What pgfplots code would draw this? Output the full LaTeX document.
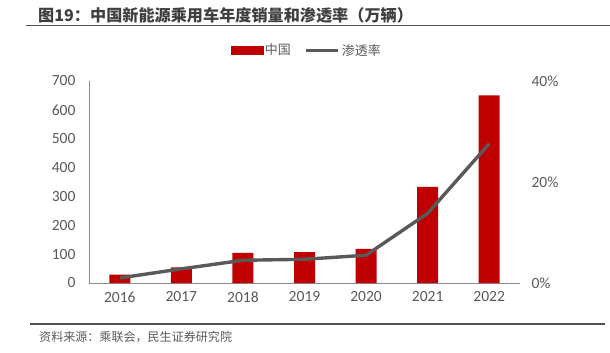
\documentclass[border=0pt]{standalone}
\usepackage{pgfplots}
\pgfplotsset{compat=1.18}
\usepackage{fontspec}
\setmainfont{Carlito}
\newfontfamily\cjk{Noto Sans CJK SC}
\definecolor{barred}{HTML}{C00000}
\definecolor{linegray}{HTML}{595959}
\definecolor{txtgray}{HTML}{595959}
\definecolor{axgray}{HTML}{8C8C8C}
\definecolor{titlegray}{HTML}{3F3F3F}
\begin{document}
\begin{tikzpicture}[x=1bp,y=1bp]
\useasboundingbox (0,0) rectangle (610,352);
\node[anchor=west, inner sep=0, font=\cjk\bfseries\fontsize{16.2}{18}\selectfont, text=titlegray] at (38,337) {图19：中国新能源乘用车年度销量和渗透率（万辆）};
\draw[line width=1.3, color=titlegray!90] (26,326.5) -- (610,326.5);
\draw[line width=1.1, color=titlegray!90] (30,28) -- (605,28);
\node[anchor=west, inner sep=0, font=\cjk\fontsize{12.1}{14}\selectfont, text=txtgray] at (39,15) {资料来源：乘联会，民生证券研究院};
\begin{axis}[at={(89bp,69bp)}, anchor=south west, scale only axis,
  width=431bp, height=202bp,
  xmin=-0.5, xmax=6.5, ymin=0, ymax=700,
  ytick={0,100,...,700}, xtick={0,...,6},
  xticklabels={2016,2017,2018,2019,2020,2021,2022},
  axis x line*=bottom, axis y line*=left,
  axis line style={axgray, line width=1bp},
  tick style={draw=none},
  /pgf/number format/assume math mode=true,
  ticklabel style={font=\fontsize{15.6}{17}\selectfont, text=txtgray},
  xticklabel style={yshift=-5bp},
  yticklabel style={xshift=-10bp},
]
\addplot[ybar, bar width=21bp, bar shift=0pt, fill=barred, draw=none]
  coordinates {(0,29) (1,54) (2,104) (3,107) (4,118) (5,333) (6,650)};
\end{axis}
\begin{axis}[at={(89bp,69bp)}, anchor=south west, scale only axis,
  width=431bp, height=202bp,
  xmin=-0.5, xmax=6.5, ymin=0, ymax=40,
  axis x line=none, axis y line*=right,
  y axis line style={draw=none},
  ytick={0,20,40}, yticklabels={0\%,20\%,40\%},
  tick style={draw=none},
  ticklabel style={font=\fontsize{15.6}{17}\selectfont, text=txtgray},
  yticklabel style={xshift=8bp},
  legend style={at={(0.505,1.152)}, anchor=center, draw=none, fill=none,
    legend columns=2, font=\cjk\fontsize{13}{15}\selectfont, text=txtgray,
    /tikz/every even column/.append style={column sep=12bp},
    inner sep=0pt},
]
\addlegendimage{legend image code/.code={\fill[barred] (0bp,-3.8bp) rectangle (32bp,3.8bp);}}
\addlegendentry{中国}
\addlegendimage{legend image code/.code={\draw[linegray,line width=3bp] (0bp,0bp) -- (32bp,0bp);}}
\addlegendentry{渗透率}
\addplot[linegray, line width=3.4bp, mark=none, forget plot]
  coordinates {(0,1.0) (1,2.8) (2,4.5) (3,4.7) (4,5.5) (5,13.8) (6,27.6)};
\end{axis}
\end{tikzpicture}
\end{document}
